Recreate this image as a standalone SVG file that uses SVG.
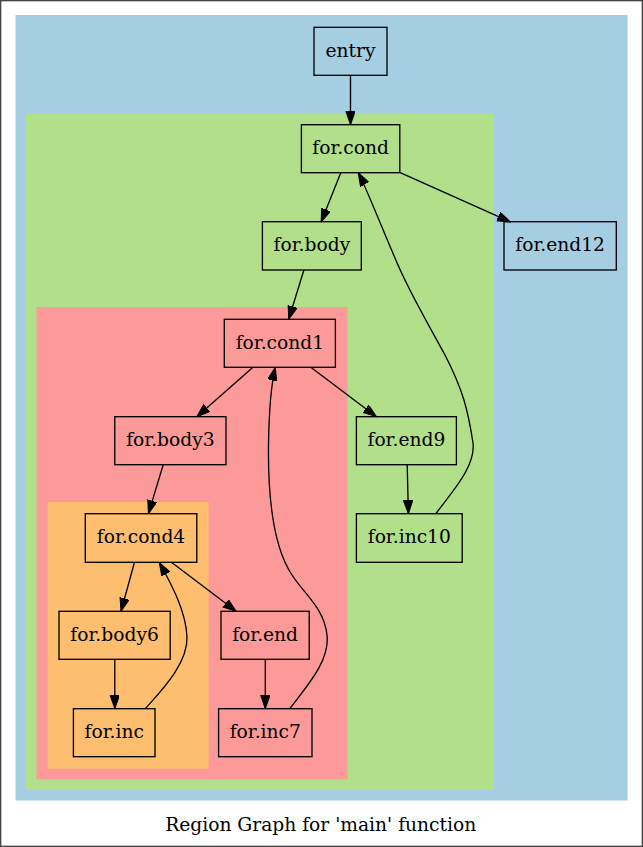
<svg xmlns="http://www.w3.org/2000/svg" width="643" height="847" viewBox="0 0 643 847">
<style>
.n rect{fill:none;stroke:#000;stroke-width:1.33}
text{font-family:"DejaVu Serif","Liberation Serif",serif;font-size:18.67px;fill:#000;text-anchor:middle}
.e path{fill:none;stroke:#000;stroke-width:1.33;marker-end:url(#a)}
</style>
<defs>
<marker id="a" markerUnits="userSpaceOnUse" markerWidth="14" markerHeight="10" viewBox="0 0 14 10" refX="13.33" refY="4.67" orient="auto">
<path d="M0,0 L13.33,4.67 L0,9.33 z" fill="#000" stroke="#000" stroke-width="1"/>
</marker>
</defs>
<rect x="0.67" y="0.67" width="641.66" height="845.66" fill="#fff" stroke="#444" stroke-width="1.33"/>
<g id="clusters">
<rect id="c_main" x="15.5" y="15" width="612" height="785.5" fill="#a6cee3"/>
<rect id="c_outer" x="26" y="113" width="468" height="677" fill="#b2df8a"/>
<rect id="c_mid" x="36.5" y="307" width="311" height="472.3" fill="#fb9a99"/>
<rect id="c_inner" x="47.6" y="502" width="161" height="266.7" fill="#fdbf6f"/>
</g>
<g id="edges" class="e">
<path d="M350.5,75.3 L350.5,124.7"/>
<path d="M340.8,172.7 L321.1,222"/>
<path d="M400.2,172.7 L510.5,222"/>
<path d="M303.9,270 L288.7,319.3"/>
<path d="M253,367.3 L196.8,416.7"/>
<path d="M310.8,367.3 L376.4,416.7"/>
<path d="M407.2,464.7 L408.4,513.7"/>
<path d="M163.2,464.7 L148.4,513.7"/>
<path d="M134.5,562.3 L121,611.3"/>
<path d="M171.4,562.3 L236.2,611.3"/>
<path d="M114.8,659.3 L114.8,708.7"/>
<path d="M265.3,659.3 L265.3,708.7"/>
<path d="M436,513.5 C450,494 476,467 473,443 C468,410 463,390 445,355 C425,318 408,290 395,258 C384,233 366,187 358.3,172.7"/>
<path d="M145.5,708.5 C160,692 188,664 187,637 C186,612 172,585 159.3,562.5"/>
<path d="M290,708.5 C305,688 330,662 327,635 C324,608 305,595 292,575 C272,545 268,490 268.5,445 C269,410 271,385 275.3,367.3"/>
</g>
<g id="entry" class="n"><rect x="314" y="27.3" width="73" height="48"/><text x="350.5" y="56.6">entry</text></g>
<g id="for.cond" class="n"><rect x="301.4" y="124.7" width="98.4" height="48"/><text x="350.6" y="154">for.cond</text></g>
<g id="for.body" class="n"><rect x="262.4" y="221.7" width="98.9" height="48.3"/><text x="311.9" y="251.2">for.body</text></g>
<g id="for.end12" class="n"><rect x="504" y="221.7" width="112.3" height="48.3"/><text x="560.1" y="251.2">for.end12</text></g>
<g id="for.cond1" class="n"><rect x="224.3" y="319.3" width="111.1" height="48"/><text x="279.9" y="348.6">for.cond1</text></g>
<g id="for.body3" class="n"><rect x="114.8" y="416.7" width="111.2" height="48"/><text x="170.4" y="446">for.body3</text></g>
<g id="for.end9" class="n"><rect x="356.4" y="416.7" width="100" height="48"/><text x="406.4" y="446">for.end9</text></g>
<g id="for.cond4" class="n"><rect x="85.3" y="513.7" width="111.5" height="48.6"/><text x="141" y="543.3">for.cond4</text></g>
<g id="for.inc10" class="n"><rect x="356.4" y="513.7" width="105.8" height="48.6"/><text x="409.3" y="543.3">for.inc10</text></g>
<g id="for.body6" class="n"><rect x="59" y="611.3" width="111.2" height="48"/><text x="114.6" y="640.6">for.body6</text></g>
<g id="for.end" class="n"><rect x="221" y="611.3" width="88.2" height="48"/><text x="265.1" y="640.6">for.end</text></g>
<g id="for.inc" class="n"><rect x="73.4" y="708.7" width="81.6" height="48"/><text x="114.2" y="738">for.inc</text></g>
<g id="for.inc7" class="n"><rect x="218.6" y="708.7" width="93.4" height="48"/><text x="265.3" y="738">for.inc7</text></g>
<text x="320.7" y="831">Region Graph for 'main' function</text>
</svg>
